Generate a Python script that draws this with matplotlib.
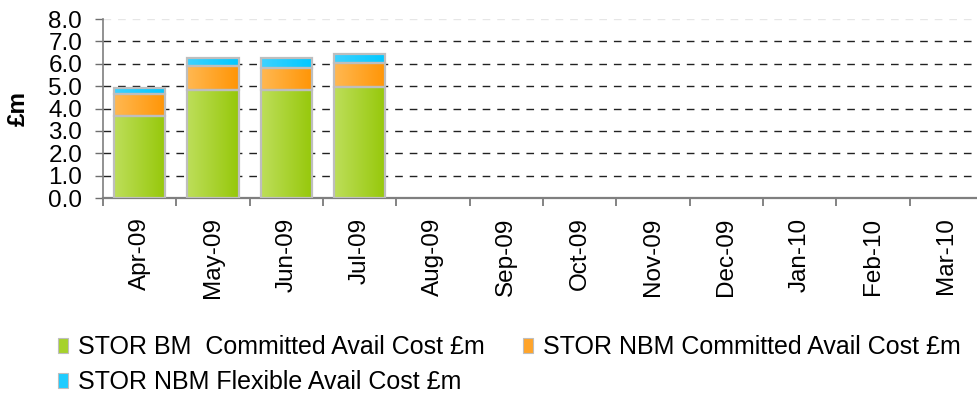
import matplotlib
matplotlib.use("Agg")
import matplotlib.pyplot as plt
import numpy as np
from matplotlib.colors import LinearSegmentedColormap
from matplotlib.patches import Patch

plt.rcParams['font.family'] = ['Liberation Sans', 'DejaVu Sans']
plt.rcParams['lines.scale_dashes'] = False

months = ["Apr-09", "May-09", "Jun-09", "Jul-09", "Aug-09", "Sep-09",
          "Oct-09", "Nov-09", "Dec-09", "Jan-10", "Feb-10", "Mar-10"]
bm_committed = [3.65, 4.83, 4.82, 4.94, 0, 0, 0, 0, 0, 0, 0, 0]
nbm_committed = [1.00, 1.06, 0.97, 1.10, 0, 0, 0, 0, 0, 0, 0, 0]
nbm_flexible = [0.27, 0.38, 0.45, 0.39, 0, 0, 0, 0, 0, 0, 0, 0]
series_names = ["STOR BM  Committed Avail Cost £m",
                "STOR NBM Committed Avail Cost £m",
                "STOR NBM Flexible Avail Cost £m"]
yticks = [0, 1, 2, 3, 4, 5, 6, 7, 8]

grads = [("#BDDE5A", "#96C80A"), ("#FFB852", "#FF9505"), ("#3DD2FF", "#00C8FF")]
solid = ["#A6D22C", "#FFA42A", "#1ECCFF"]
FS = 17.5
LFS = 18

fig = plt.figure(figsize=(9.78, 4.05), dpi=100)
ax = fig.add_axes([103/978, 1-198/405, 880/978, 179/405])

x = np.arange(len(months))
bottoms = np.zeros(len(months))
for vals, (c1, c2), sc in zip([bm_committed, nbm_committed, nbm_flexible], grads, solid):
    vals = np.array(vals)
    bars = ax.bar(x, vals, width=0.70, bottom=bottoms, color=sc,
                  edgecolor="#BEBEBE", linewidth=1.6, zorder=3)
    cmap = LinearSegmentedColormap.from_list("g", [c1, c2])
    grad = np.linspace(0, 1, 64).reshape(1, -1)
    for p, v in zip(bars.patches, vals):
        if v <= 0:
            p.set_visible(False)
            continue
        bx, by = p.get_x(), p.get_y()
        im = ax.imshow(grad, cmap=cmap, aspect="auto",
                       extent=[bx, bx + p.get_width(), by, by + p.get_height()],
                       zorder=3.5, interpolation="bilinear")
        im.set_clip_path(p)
        p.set_facecolor("none")
        p.set_zorder(4)
    bottoms = bottoms + vals

ax.set_xlim(-0.5, len(months) - 0.5)
ax.set_ylim(0, 8)
ax.set_yticks(yticks)
ax.set_yticklabels([f"{v:.1f}" for v in yticks], fontsize=FS)
for v in yticks[1:-1]:
    ax.axhline(v, color="#222222", linewidth=1.0, dashes=(5.5, 5), zorder=1)
ax.axhline(8, color="#E6E6E6", linewidth=1.0, dashes=(5.5, 5), zorder=1)

ax.set_xticks(x)
ax.set_xticklabels(months, rotation=90, fontsize=FS)
ax.tick_params(axis="x", which="major", length=0, pad=14)
ax.set_xticks(np.arange(-0.5, len(months)), minor=True)
ax.tick_params(axis="x", which="minor", length=6, width=1.2, color="#6E6E6E", direction="out")
ax.tick_params(axis="y", length=6, width=1.0, color="#6E6E6E", direction="out", pad=9)

for s in ["top", "right"]:
    ax.spines[s].set_visible(False)
ax.spines["left"].set_color("#7F7F7F")
ax.spines["bottom"].set_color("#7F7F7F")
ax.spines["left"].set_linewidth(1.2)
ax.spines["bottom"].set_linewidth(1.6)

ax.set_ylabel("£m", fontsize=FS, fontweight="bold", labelpad=13)

handles = [Patch(facecolor=c, edgecolor="#BEBEBE", linewidth=0.8) for c in solid]
leg = fig.legend([handles[0], handles[2], handles[1]],
                 [series_names[0], series_names[2], series_names[1]],
                 ncol=2, loc="upper left", bbox_to_anchor=(58/978, 1-335/405),
                 frameon=False, fontsize=LFS, handlelength=0.42, handleheight=0.55,
                 handletextpad=0.4, columnspacing=1.5, labelspacing=0.45,
                 borderaxespad=0, borderpad=0)

fig.savefig("out.png", dpi=100)
